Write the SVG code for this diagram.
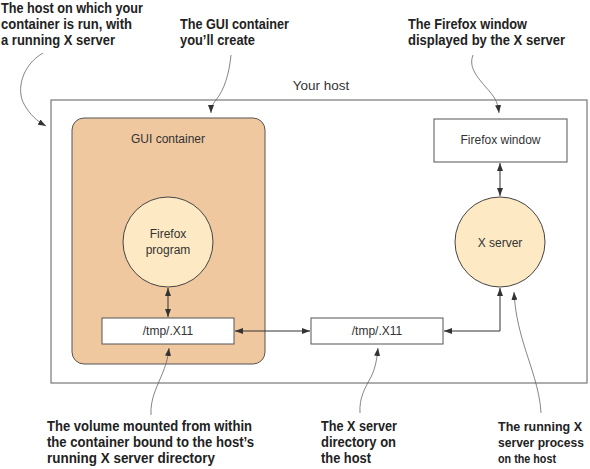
<svg xmlns="http://www.w3.org/2000/svg" width="590" height="469" viewBox="0 0 590 469">
<style>
.lbl{font-family:"Liberation Sans",Arial,sans-serif;font-weight:bold;font-size:14px;fill:#222}
.lbs{font-family:"Liberation Sans",Arial,sans-serif;font-weight:bold;font-size:12.6px;fill:#222}
.txt{font-family:"Liberation Sans",Arial,sans-serif;font-size:12px;fill:#333;text-anchor:middle}
.box{fill:#fff;stroke:#555;stroke-width:1}
.circ{fill:#fde9c4;stroke:#444;stroke-width:1}
.conn{fill:none;stroke:#333;stroke-width:1;marker-start:url(#ah);marker-end:url(#ah)}
.ann{fill:none;stroke:#666;stroke-width:0.8;marker-end:url(#ah2)}
</style>
<defs>
<marker id="ah" viewBox="0 0 8 6" refX="8" refY="3" markerWidth="8" markerHeight="6" markerUnits="userSpaceOnUse" orient="auto-start-reverse">
<path d="M0,0 L8,3 L0,6 z" fill="#333"/>
</marker>
<marker id="ah2" viewBox="0 0 8 6" refX="8" refY="3" markerWidth="8" markerHeight="6" markerUnits="userSpaceOnUse" orient="auto">
<path d="M0,0 L8,3 L0,6 z" fill="#333"/>
</marker>
</defs>
<g id="host">
<rect x="51" y="100" width="536" height="283" fill="#fff" stroke="#777" stroke-width="1.2"/>
<text class="txt" x="321" y="90" style="font-size:13.5px">Your host</text>
</g>
<g id="gui-container">
<rect x="72" y="118" width="193" height="246" rx="12" ry="12" fill="#f0c8a0" stroke="#555" stroke-width="1"/>
<text class="txt" x="168" y="143">GUI container</text>
</g>
<g id="firefox-program">
<circle class="circ" cx="168" cy="242" r="45"/>
<text class="txt" x="168" y="238">Firefox</text>
<text class="txt" x="168" y="254">program</text>
</g>
<g id="tmp-x11-container">
<rect class="box" x="102" y="318" width="132" height="26"/>
<text class="txt" x="168" y="335">/tmp/.X11</text>
</g>
<g id="tmp-x11-host">
<rect class="box" x="311" y="318" width="132" height="26"/>
<text class="txt" x="377" y="335">/tmp/.X11</text>
</g>
<g id="firefox-window">
<rect class="box" x="434" y="119" width="133" height="43"/>
<text class="txt" x="500.5" y="144">Firefox window</text>
</g>
<g id="x-server">
<circle class="circ" cx="500" cy="242" r="45"/>
<text class="txt" x="500" y="247">X server</text>
</g>
<g id="connectors">
<line class="conn" x1="168" y1="288" x2="168" y2="317"/>
<line class="conn" x1="235" y1="331" x2="310" y2="331"/>
<path class="conn" d="M444,331 H500 V288"/>
<line class="conn" x1="500" y1="163" x2="500" y2="196"/>
</g>
<g id="annotations">
<path class="ann" d="M43,53 C22,65 16,90 24,104 C30,115 37,121 46,126"/>
<path class="ann" d="M231,55 C229,75 224,90 216,100 C212,105 211,108 211,113"/>
<path class="ann" d="M473,55 C468,68 478,78 490,92 C496,99 498,104 499,113"/>
<path class="ann" d="M151,415 C150,398 158,385 163,372 C167,362 168,356 169,348"/>
<path class="ann" d="M360,413 C359,398 365,388 371,377 C376,367 377,357 378,348"/>
<path class="ann" d="M541,413 C540,390 530,365 524,345 C518,325 515,310 514,292"/>
</g>
<g id="labels">
<text class="lbl" x="1" y="13" textLength="142" lengthAdjust="spacingAndGlyphs">The host on which your</text>
<text class="lbl" x="1" y="29" textLength="131" lengthAdjust="spacingAndGlyphs">container is run, with</text>
<text class="lbl" x="1" y="45" textLength="114" lengthAdjust="spacingAndGlyphs">a running X server</text>
<text class="lbl" x="180" y="29" textLength="109" lengthAdjust="spacingAndGlyphs">The GUI container</text>
<text class="lbl" x="180" y="45" textLength="75" lengthAdjust="spacingAndGlyphs">you’ll create</text>
<text class="lbl" x="408" y="29" textLength="119" lengthAdjust="spacingAndGlyphs">The Firefox window</text>
<text class="lbl" x="408" y="45" textLength="157" lengthAdjust="spacingAndGlyphs">displayed by the X server</text>
<text class="lbl" x="47" y="431" textLength="205" lengthAdjust="spacingAndGlyphs">The volume mounted from within</text>
<text class="lbl" x="47" y="447" textLength="207" lengthAdjust="spacingAndGlyphs">the container bound to the host’s</text>
<text class="lbl" x="47" y="463" textLength="168" lengthAdjust="spacingAndGlyphs">running X server directory</text>
<text class="lbl" x="321" y="431" textLength="76" lengthAdjust="spacingAndGlyphs">The X server</text>
<text class="lbl" x="321" y="447" textLength="75" lengthAdjust="spacingAndGlyphs">directory on</text>
<text class="lbl" x="321" y="463" textLength="50" lengthAdjust="spacingAndGlyphs">the host</text>
<text class="lbs" x="498" y="431" textLength="84" lengthAdjust="spacingAndGlyphs">The running X</text>
<text class="lbs" x="498" y="447" textLength="86" lengthAdjust="spacingAndGlyphs">server process</text>
<text class="lbs" x="498" y="463" textLength="58" lengthAdjust="spacingAndGlyphs">on the host</text>
</g>
</svg>
